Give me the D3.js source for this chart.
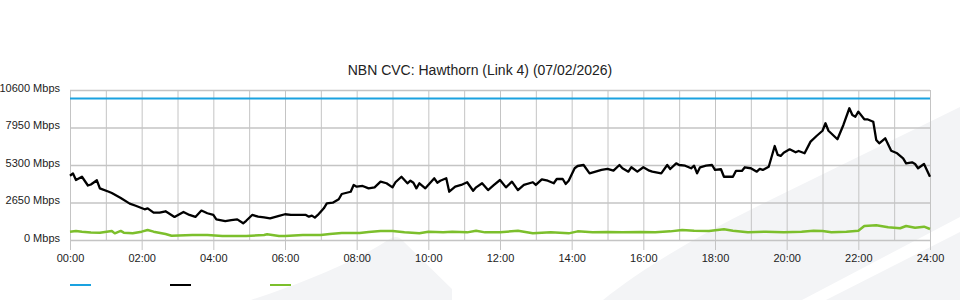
<!DOCTYPE html>
<html>
<head>
<meta charset="utf-8">
<script src="https://cdn.jsdelivr.net/npm/d3@7"></script>
<style>
	body { margin: 0; background: #fff; }
	svg { display: block; font-family: "Liberation Sans", Arial, sans-serif; }
</style>
</head>
<body>
<div id="container"></div>
<script>
'use strict';

const chartTitle = 'NBN CVC: Hawthorn (Link 4) (07/02/2026)';

// minutes after midnight
const capacityTimes = [0, 1440];
const capacityMbps = [10000, 10000];

const trafficTimes = [0,5,10,20,30,35,45,50,65,70,85,100,110,125,130,140,150,160,175,190,
	200,210,220,230,240,245,260,270,280,290,295,305,315,325,335,350,360,370,395,400,
	405,410,415,425,430,440,450,455,470,475,480,490,500,510,520,530,540,545,555,565,
	570,575,580,585,595,610,615,620,630,635,645,655,665,675,680,690,700,710,720,730,
	740,750,760,775,780,790,800,810,815,825,830,835,845,850,860,870,880,890,900,910,
	920,925,935,940,950,960,970,975,990,1000,1005,1015,1020,1030,1040,1045,1050,1055,1065,1075,
	1080,1090,1095,1110,1115,1125,1130,1140,1150,1155,1160,1170,1180,1185,1190,1195,1205,1215,1220,1230,
	1240,1250,1260,1265,1270,1285,1295,1305,1310,1315,1320,1330,1335,1345,1350,1355,1365,1375,1385,1395,
	1400,1410,1415,1420,1430,1440];
const trafficMbps = [4540,4710,4240,4470,3850,3920,4220,3650,3410,3320,2970,2570,2420,2170,2240,1930,1930,2030,1630,1980,
	1770,1630,2080,1890,1770,1460,1340,1410,1460,1180,1360,1770,1650,1600,1530,1700,1820,1770,1770,1650,
	1720,1580,1770,2240,2590,2640,2880,3250,3410,3890,3770,3820,3650,3720,4120,4010,3720,4080,4470,4010,
	4190,4050,3650,4010,3650,4360,4050,4190,4360,3410,3770,3890,4080,3480,3720,4010,3530,3890,4240,3720,
	4120,3530,3890,4080,3890,4290,4190,4010,4310,4310,3960,4190,5070,5230,5300,4710,4830,4950,5020,4900,
	5300,5070,4830,5140,4830,5140,4900,4830,4710,5300,5020,5420,5300,5250,5070,5250,4710,5140,5250,5300,
	4950,5000,4470,4470,4880,4880,5140,5070,4830,5020,4950,5180,6640,6010,5940,6170,6410,6200,6290,6130,
	6950,7350,7720,8250,7720,7120,8130,9310,8830,8710,9070,8530,8530,8360,7070,6830,7190,6310,6130,5770,
	5420,5490,5370,5070,5370,4470];

const upTimes = [0,10,20,35,50,70,75,85,90,105,120,130,140,160,170,205,230,255,270,295,
	325,330,350,360,390,420,435,455,485,500,520,540,560,585,600,625,640,665,680,695,
	720,750,775,805,835,850,875,900,925,955,980,1005,1025,1045,1070,1095,1110,1135,1165,1195,
	1225,1245,1260,1275,1300,1320,1330,1350,1370,1390,1400,1415,1430,1440];
const upMbps = [590,640,590,530,520,640,470,640,520,470,590,710,590,420,300,350,350,280,280,280,
	350,400,280,280,350,350,420,490,490,570,640,640,540,470,590,540,590,540,660,540,
	540,660,470,540,470,610,540,570,540,570,540,610,710,660,640,760,660,540,590,540,
	590,660,640,540,590,660,990,1040,900,830,990,870,940,780];

const yTicks = [0, 2650, 5300, 7950, 10600];
const xTickLabels = ['00:00','02:00','04:00','06:00','08:00','10:00','12:00','14:00','16:00','18:00','20:00','22:00','24:00'];

let options = {
	width: 960,
	height: 300,
	left: 70,
	right: 930,
	top: 90,
	bottom: 240,
	grid: '#c4c4c4',
};

function toMinutes(label) {
	let parts = label.split(':');
	return +parts[0] * 60 + +parts[1];
}

let svg = d3.select('#container')
	.append('svg')
	.attr('width', options.width)
	.attr('height', options.height);

// faint background logo
let bg = svg.append('g').attr('fill', '#f3f4f6');
bg.append('path').attr('d', 'M251,300 C300,284 355,262 388,240 Q397,233 404,242 L452,289 L452,300 Z');
bg.append('path').attr('d', 'M603,300 C640,270 690,240 760,205 L960,107 L960,217 L802,300 Z');
bg.append('path').attr('d', 'M826,300 L960,232 L960,300 Z');

let x = d3.scaleLinear().domain([0, 1440]).range([options.left, options.right]);
let y = d3.scaleLinear().domain([0, 10600]).range([options.bottom, options.top]);

// hourly vertical grid
let hours = d3.range(0, 1441, 60);
svg.append('g')
	.attr('transform', `translate(0,${options.bottom})`)
	.call(d3.axisBottom(x).tickValues(hours).tickSize(-(options.bottom - options.top)).tickFormat(''))
	.call((g) => g.select('.domain').remove())
	.call((g) => g.selectAll('line').attr('stroke', options.grid));

// horizontal grid + labels
svg.append('g')
	.attr('transform', `translate(${options.left},0)`)
	.call(d3.axisLeft(y).tickValues(yTicks).tickSize(-(options.right - options.left)).tickPadding(10).tickFormat((d) => d + ' Mbps'))
	.call((g) => g.select('.domain').remove())
	.call((g) => g.selectAll('line').attr('stroke', options.grid).attr('stroke-width', 1.5))
	.call((g) => g.selectAll('text').attr('font-size', 11).attr('fill', '#222').attr('dy', '0.1em').style('font-family', 'inherit'));

// bottom axis with labels
svg.append('g')
	.attr('transform', `translate(0,${options.bottom})`)
	.call(d3.axisBottom(x).tickValues(xTickLabels.map(toMinutes)).tickSize(10).tickPadding(4)
		.tickFormat((d, i) => xTickLabels[i]))
	.call((g) => g.select('.domain').attr('stroke', options.grid))
	.call((g) => g.selectAll('line').attr('stroke', options.grid))
	.call((g) => g.selectAll('text').attr('font-size', 11).attr('fill', '#222').style('font-family', 'inherit'));

let line = d3.line()
	.x((d) => x(d[0]))
	.y((d) => y(d[1]));

function drawSeries(times, values, color, width) {
	svg.append('path')
		.datum(d3.zip(times, values))
		.attr('fill', 'none')
		.attr('stroke', color)
		.attr('stroke-width', width)
		.attr('stroke-linejoin', 'round')
		.attr('d', line);
}

drawSeries(capacityTimes, capacityMbps, '#1aa2e0', 2);
drawSeries(upTimes, upMbps, '#7cbf2c', 2.5);
drawSeries(trafficTimes, trafficMbps, '#000', 2.3);

svg.append('text')
	.attr('x', 480)
	.attr('y', 75)
	.attr('text-anchor', 'middle')
	.attr('font-size', 14)
	.attr('fill', '#222')
	.text(chartTitle);

// legend (no labels)
let legendColors = ['#1aa2e0', '#000', '#7cbf2c'];
svg.append('g')
	.selectAll('line')
	.data(legendColors)
	.enter()
	.append('line')
	.attr('x1', (d, i) => 70 + i * 100)
	.attr('x2', (d, i) => 91 + i * 100)
	.attr('y1', 285)
	.attr('y2', 285)
	.attr('stroke', (d) => d)
	.attr('stroke-width', 2);
</script>
</body>
</html>
